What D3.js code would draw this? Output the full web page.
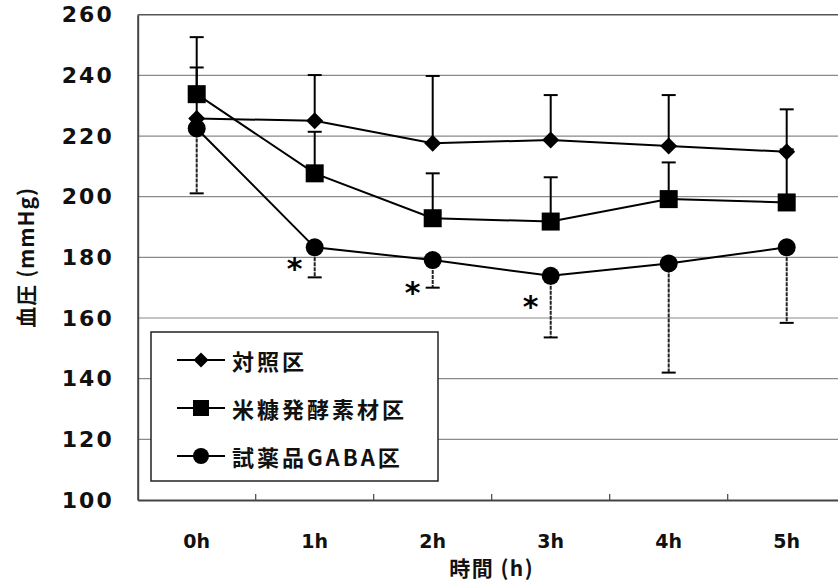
<!DOCTYPE html>
<html>
<head>
<meta charset="utf-8">
<script src="https://cdn.jsdelivr.net/npm/d3@7/dist/d3.min.js"></script>
<style>
  html, body { margin: 0; padding: 0; background: #fff; }
  svg { display: block; }
</style>
</head>
<body>
<svg id="chart" width="838" height="581"></svg>
<script>
// Blood pressure over time for three groups (mean ± SD)
const categories = ["0h", "1h", "2h", "3h", "4h", "5h"];
const yTicks = [100, 120, 140, 160, 180, 200, 220, 240, 260];

const controlMean = [225.8, 225.0, 217.6, 218.7, 216.7, 214.8];
const controlSD   = [26.8, 15.1, 22.2, 14.8, 16.8, 14.0];

const riceMean = [233.8, 207.7, 192.9, 191.8, 199.2, 198.1];
const riceSD   = [8.8, 13.7, 14.8, 14.6, 12.1, 17.5];

const gabaMean = [222.5, 183.3, 179.1, 173.9, 178.0, 183.3];
const gabaSD   = [21.4, 9.9, 9.1, 20.3, 36.0, 24.9];

// significance marks (category, vertical position in mmHg)
const sigCats = ["1h", "2h", "3h"];
const sigPos  = [178.9, 170.9, 166.2];

const seriesNames = ["対照区", "米糠発酵素材区", "試薬品GABA区"];
const series = [
  { name: seriesNames[0], mean: controlMean, sd: controlSD, dir: -1, shape: "diamond" },
  { name: seriesNames[1], mean: riceMean, sd: riceSD, dir: -1, shape: "square" },
  { name: seriesNames[2], mean: gabaMean, sd: gabaSD, dir: 1, shape: "circle" }
];

const svg = d3.select("#chart");
const plot = { left: 137.7, right: 845.7, top: 14.7, bottom: 500 };

const x = d3.scaleBand().domain(categories).range([plot.left, plot.right]);
const cx = c => x(c) + x.bandwidth() / 2;
const y = d3.scaleLinear().domain([100, 260]).range([plot.bottom, plot.top]);

const numFont = "'DejaVu Sans', sans-serif";
const jpFont = "'Noto Sans CJK JP', sans-serif";

// horizontal gridlines
svg.append("g")
  .selectAll("line")
  .data(yTicks.filter(t => t > 100 && t < 260))
  .join("line")
  .attr("x1", plot.left).attr("x2", 838)
  .attr("y1", d => y(d)).attr("y2", d => y(d))
  .attr("stroke", "#8a8a8a").attr("stroke-width", 1.2);

// frame: top, left and bottom edges
svg.append("line")
  .attr("x1", plot.left).attr("x2", 838)
  .attr("y1", y(260)).attr("y2", y(260))
  .attr("stroke", "#555").attr("stroke-width", 1.5);

const xAxis = d3.axisBottom(x).tickSize(0).tickFormat("");
svg.append("g")
  .attr("transform", `translate(0,${plot.bottom})`)
  .call(xAxis)
  .call(g => g.select(".domain").attr("stroke", "#444").attr("stroke-width", 2));

// small inward ticks on the category boundaries
svg.append("g")
  .selectAll("line")
  .data(categories.slice(1))
  .join("line")
  .attr("x1", d => x(d)).attr("x2", d => x(d))
  .attr("y1", plot.bottom).attr("y2", plot.bottom - 6)
  .attr("stroke", "#444").attr("stroke-width", 1.2);

const yAxis = d3.axisLeft(y).tickValues(yTicks).tickSize(0).tickPadding(24);
svg.append("g")
  .attr("transform", `translate(${plot.left},0)`)
  .call(yAxis)
  .call(g => g.select(".domain").attr("stroke", "#444").attr("stroke-width", 2))
  .call(g => g.selectAll("text")
    .attr("font-family", numFont)
    .attr("font-weight", "bold")
    .attr("font-size", 22)
    .attr("letter-spacing", 2)
    .attr("fill", "#111"));

// category labels
svg.append("g")
  .selectAll("text")
  .data(categories)
  .join("text")
  .attr("x", d => cx(d))
  .attr("y", 541)
  .attr("text-anchor", "middle")
  .attr("dominant-baseline", "central")
  .attr("font-family", numFont)
  .attr("font-weight", "bold")
  .attr("font-size", 19)
  .attr("fill", "#111")
  .text(d => d);

// axis titles
svg.append("text")
  .attr("x", (plot.left + plot.right) / 2)
  .attr("y", 567)
  .attr("text-anchor", "middle")
  .attr("dominant-baseline", "central")
  .attr("font-family", jpFont)
  .attr("font-weight", "bold")
  .attr("font-size", 21)
  .attr("letter-spacing", 1.5)
  .attr("fill", "#111")
  .text("時間 (h)");

svg.append("text")
  .attr("transform", `translate(25,${(plot.top + plot.bottom) / 2}) rotate(-90)`)
  .attr("text-anchor", "middle")
  .attr("dominant-baseline", "central")
  .attr("font-family", jpFont)
  .attr("font-weight", "bold")
  .attr("font-size", 21)
  .attr("letter-spacing", 1)
  .attr("fill", "#111")
  .text("血圧 (mmHg)");

// marker drawing
function drawMarker(g, shape, px, py, s) {
  if (shape === "diamond") {
    g.append("path")
      .attr("d", `M${px},${py - s}L${px + s},${py}L${px},${py + s}L${px - s},${py}Z`)
      .attr("fill", "#000");
  } else if (shape === "square") {
    g.append("rect")
      .attr("x", px - s).attr("y", py - s)
      .attr("width", 2 * s).attr("height", 2 * s)
      .attr("fill", "#000");
  } else {
    g.append("circle").attr("cx", px).attr("cy", py).attr("r", s).attr("fill", "#000");
  }
}
const markerSize = { diamond: 8.5, square: 9, circle: 9 };

const line = d3.line().x(d => cx(d.c)).y(d => y(d.v));

series.forEach(s => {
  const pts = categories.map((c, i) => ({ c, v: s.mean[i], sd: s.sd[i] }));
  const g = svg.append("g");

  // error bars (one side)
  const eb = g.append("g");
  pts.forEach(p => {
    const end = p.v + (s.dir < 0 ? p.sd : -p.sd);
    eb.append("line")
      .attr("x1", cx(p.c)).attr("x2", cx(p.c))
      .attr("y1", y(p.v)).attr("y2", y(end))
      .attr("stroke", s.shape === "circle" ? "#222" : "#000").attr("stroke-width", 2)
      .attr("stroke-dasharray", s.shape === "circle" ? "4,1" : null);
    eb.append("line")
      .attr("x1", cx(p.c) - 7).attr("x2", cx(p.c) + 7)
      .attr("y1", y(end)).attr("y2", y(end))
      .attr("stroke", "#000").attr("stroke-width", 2);
  });

  g.append("path")
    .datum(pts)
    .attr("d", line)
    .attr("fill", "none")
    .attr("stroke", "#000")
    .attr("stroke-width", 2);

  pts.forEach(p => drawMarker(g, s.shape, cx(p.c), y(p.v), markerSize[s.shape]));
});

// significance asterisks
svg.append("g")
  .selectAll("text")
  .data(sigCats.map((c, i) => ({ c, v: sigPos[i] })))
  .join("text")
  .attr("x", d => cx(d.c) - 20)
  .attr("y", d => y(d.v) + 18)
  .attr("text-anchor", "middle")
  .attr("font-family", numFont)
  .attr("font-weight", "bold")
  .attr("font-size", 30)
  .attr("fill", "#000")
  .text("*");

// legend
const legend = svg.append("g");
legend.append("rect")
  .attr("x", 151).attr("y", 332)
  .attr("width", 287).attr("height", 149)
  .attr("fill", "#fff")
  .attr("stroke", "#222").attr("stroke-width", 1.5);

const legendRows = [360, 408, 456];
const legendSize = { diamond: 7.5, square: 8, circle: 8 };
series.forEach((s, i) => {
  const ly = legendRows[i];
  legend.append("line")
    .attr("x1", 177).attr("x2", 225)
    .attr("y1", ly).attr("y2", ly)
    .attr("stroke", "#000").attr("stroke-width", 2);
  drawMarker(legend, s.shape, 201, ly, legendSize[s.shape]);
  legend.append("text")
    .attr("x", 232).attr("y", ly)
    .attr("dominant-baseline", "central")
    .attr("font-family", jpFont)
    .attr("font-weight", "bold")
    .attr("font-size", 22)
    .attr("letter-spacing", 3)
    .attr("fill", "#111")
    .text(s.name);
});
</script>
</body>
</html>
